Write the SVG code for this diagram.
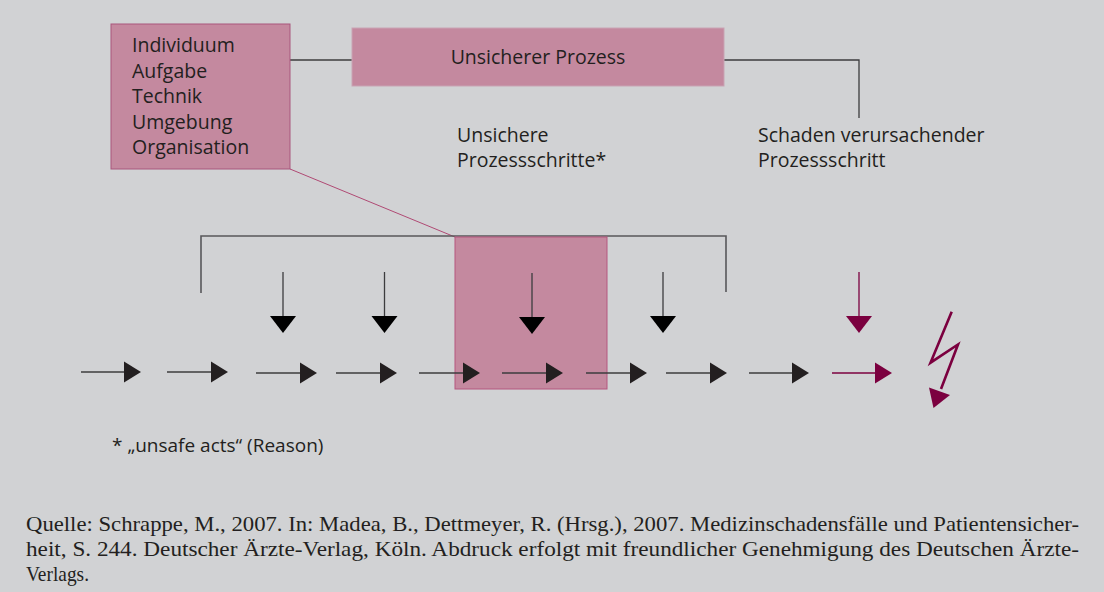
<svg xmlns="http://www.w3.org/2000/svg" width="1104" height="592" viewBox="0 0 1104 592">
<style>
.t{font-family:"Open Sans","Noto Sans",sans-serif;font-size:19.5px;fill:#231f20}
.src{font-family:"Liberation Serif",serif;font-size:21px;fill:#231f20}
.ln{stroke:#3c3c3e;stroke-width:1.3;fill:none}
.br{stroke:#58585a;stroke-width:1.6;fill:none}
.head{fill:#231f20}
.mh{fill:#7b003f}
.ml{stroke:#7b003f;stroke-width:1.3;fill:none}
</style>
<defs>
<polygon id="rh" points="0,-10.5 17,0 0,10.5"/>
<polygon id="dh" points="-13,0 13,0 0,17"/>
</defs>
<rect x="0" y="0" width="1104" height="592" fill="#d1d2d4"/>

<g id="connectors">
<line class="ln" x1="290" y1="60" x2="352" y2="60"/>
<polyline class="ln" points="724,60 859,60 859,118"/>
<line x1="290" y1="169" x2="455" y2="237" stroke="#b04a74" stroke-width="1"/>
<polyline class="br" points="201,293 201,236 726,236 726,292"/>
</g>

<g id="node-factors">
<rect x="111" y="24" width="179" height="145" fill="#c4899f" stroke="#a9567c" stroke-width="1"/>
<text class="t" x="132" y="52">Individuum</text>
<text class="t" x="132" y="78">Aufgabe</text>
<text class="t" x="132" y="103">Technik</text>
<text class="t" x="132" y="129">Umgebung</text>
<text class="t" x="132" y="154">Organisation</text>
</g>

<g id="node-process">
<rect x="352" y="28" width="372" height="58" fill="#c4899f" stroke="#c9a3b3" stroke-width="1"/>
<text class="t" x="538" y="64" text-anchor="middle">Unsicherer Prozess</text>
</g>

<g id="label-unsafe">
<text class="t" x="457" y="142">Unsichere</text>
<text class="t" x="457" y="167">Prozessschritte*</text>
</g>

<g id="label-harm">
<text class="t" x="758" y="142">Schaden verursachender</text>
<text class="t" x="758" y="167">Prozessschritt</text>
</g>

<g id="node-highlight">
<rect x="455" y="237" width="152" height="152" fill="#c4899f" stroke="#b5577f" stroke-width="1"/>
</g>

<g id="down-arrows">
<line class="ln" x1="283" y1="272" x2="283" y2="318"/><use href="#dh" x="283" y="316"/>
<line class="ln" x1="384.5" y1="272" x2="384.5" y2="318"/><use href="#dh" x="384.5" y="316"/>
<line class="ln" x1="532" y1="273" x2="532" y2="318"/><use href="#dh" x="532" y="317"/>
<line class="ln" x1="663" y1="272" x2="663" y2="318"/><use href="#dh" x="663" y="316"/>
<line class="ml" x1="859" y1="272" x2="859" y2="318"/><use href="#dh" x="859" y="316" class="mh"/>
</g>

<g id="step-arrows">
<g class="head">
<line class="ln" x1="81" y1="372" x2="126" y2="372"/><use href="#rh" x="124" y="372"/>
<line class="ln" x1="167" y1="372" x2="213" y2="372"/><use href="#rh" x="211" y="372"/>
<line class="ln" x1="256" y1="373" x2="302" y2="373"/><use href="#rh" x="300" y="373"/>
<line class="ln" x1="336" y1="373" x2="382" y2="373"/><use href="#rh" x="380" y="373"/>
<line class="ln" x1="419" y1="373" x2="465" y2="373"/><use href="#rh" x="463" y="373"/>
<line class="ln" x1="502" y1="373" x2="548" y2="373"/><use href="#rh" x="546" y="373"/>
<line class="ln" x1="586" y1="373" x2="632" y2="373"/><use href="#rh" x="630" y="373"/>
<line class="ln" x1="666" y1="373" x2="712" y2="373"/><use href="#rh" x="710" y="373"/>
<line class="ln" x1="749" y1="373" x2="794" y2="373"/><use href="#rh" x="792" y="373"/>
</g>
<line class="ml" x1="832" y1="373" x2="877" y2="373"/><use href="#rh" x="875" y="373" class="mh"/>
</g>

<g id="lightning">
<polyline points="951.7,311.7 930.5,362.7 958,344.5 941,389" fill="none" stroke="#7b003f" stroke-width="2.6" stroke-linejoin="miter"/>
<polygon points="933.5,408 929,387.5 950,395" fill="#7b003f"/>
</g>

<g id="footnote">
<text class="t" x="112" y="452" style="font-size:19px">* „unsafe acts“ (Reason)</text>
</g>

<g id="source">
<text class="src" x="26" y="531" textLength="1053" lengthAdjust="spacingAndGlyphs">Quelle: Schrappe, M., 2007. In: Madea, B., Dettmeyer, R. (Hrsg.), 2007. Medizinschadensfälle und Patientensicher-</text>
<text class="src" x="26" y="556" textLength="1053" lengthAdjust="spacingAndGlyphs">heit, S. 244. Deutscher Ärzte-Verlag, Köln. Abdruck erfolgt mit freundlicher Genehmigung des Deutschen Ärzte-</text>
<text class="src" x="26" y="581" textLength="63" lengthAdjust="spacingAndGlyphs">Verlags.</text>
</g>
</svg>
